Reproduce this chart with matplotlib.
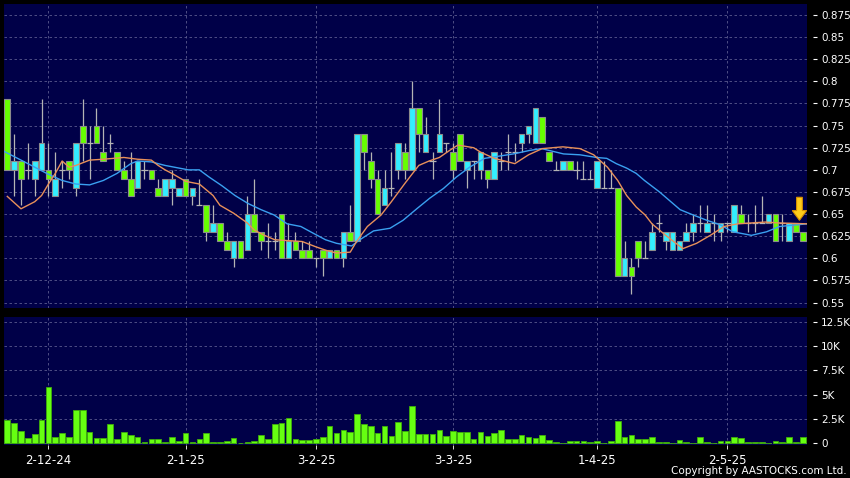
import numpy as np
import matplotlib
matplotlib.use("Agg")
import matplotlib.pyplot as plt
from matplotlib.patches import Polygon

# daily candles, oldest first (index 0 = first bar on the chart)
opens = [0.78, 0.70, 0.71, 0.70, 0.69, 0.70, 0.70, 0.67, 0.70, 0.71,
         0.68, 0.75, 0.73, 0.75, 0.72, 0.73, 0.72, 0.70, 0.69, 0.68,
         0.70, 0.70, 0.68, 0.67, 0.68, 0.67, 0.69, 0.67, 0.66, 0.66,
         0.63, 0.64, 0.62, 0.60, 0.62, 0.61, 0.65, 0.63, 0.62, 0.62,
         0.65, 0.60, 0.62, 0.61, 0.61, 0.60, 0.61, 0.60, 0.61, 0.60,
         0.63, 0.62, 0.74, 0.71, 0.69, 0.66, 0.68, 0.70, 0.72, 0.70,
         0.77, 0.72, 0.71, 0.72, 0.73, 0.72, 0.74, 0.70, 0.71, 0.70,
         0.70, 0.69, 0.71, 0.72, 0.72, 0.73, 0.74, 0.73, 0.76, 0.72,
         0.70, 0.70, 0.71, 0.70, 0.69, 0.69, 0.68, 0.68, 0.68, 0.68,
         0.58, 0.59, 0.62, 0.60, 0.61, 0.64, 0.62, 0.61, 0.61, 0.62,
         0.63, 0.64, 0.63, 0.64, 0.63, 0.64, 0.63, 0.65, 0.64, 0.64,
         0.64, 0.64, 0.65, 0.64, 0.62, 0.64, 0.63]
closes = [0.70, 0.71, 0.69, 0.70, 0.71, 0.73, 0.69, 0.69, 0.70, 0.70,
          0.73, 0.73, 0.73, 0.73, 0.71, 0.73, 0.70, 0.69, 0.67, 0.71,
          0.70, 0.69, 0.67, 0.69, 0.69, 0.68, 0.67, 0.68, 0.66, 0.63,
          0.64, 0.62, 0.61, 0.62, 0.60, 0.65, 0.63, 0.62, 0.62, 0.62,
          0.60, 0.62, 0.61, 0.60, 0.60, 0.60, 0.60, 0.61, 0.60, 0.63,
          0.62, 0.74, 0.72, 0.69, 0.65, 0.68, 0.68, 0.73, 0.70, 0.77,
          0.74, 0.74, 0.71, 0.74, 0.73, 0.70, 0.71, 0.71, 0.71, 0.72,
          0.69, 0.72, 0.71, 0.72, 0.72, 0.74, 0.75, 0.77, 0.73, 0.71,
          0.70, 0.71, 0.70, 0.70, 0.69, 0.69, 0.71, 0.68, 0.68, 0.58,
          0.60, 0.58, 0.60, 0.60, 0.63, 0.64, 0.63, 0.63, 0.62, 0.63,
          0.64, 0.64, 0.64, 0.64, 0.64, 0.64, 0.66, 0.64, 0.64, 0.64,
          0.64, 0.65, 0.62, 0.64, 0.64, 0.63, 0.62]
highs = [0.78, 0.74, 0.71, 0.73, 0.71, 0.78, 0.73, 0.72, 0.71, 0.71,
         0.73, 0.78, 0.75, 0.77, 0.75, 0.74, 0.72, 0.71, 0.72, 0.71,
         0.71, 0.70, 0.69, 0.69, 0.70, 0.68, 0.69, 0.68, 0.69, 0.66,
         0.66, 0.64, 0.63, 0.62, 0.62, 0.67, 0.69, 0.63, 0.64, 0.63,
         0.65, 0.64, 0.63, 0.62, 0.62, 0.60, 0.61, 0.61, 0.61, 0.63,
         0.66, 0.74, 0.74, 0.72, 0.70, 0.70, 0.72, 0.73, 0.73, 0.80,
         0.77, 0.76, 0.72, 0.78, 0.73, 0.73, 0.74, 0.71, 0.71, 0.72,
         0.70, 0.72, 0.72, 0.74, 0.73, 0.74, 0.75, 0.77, 0.76, 0.72,
         0.71, 0.71, 0.71, 0.71, 0.71, 0.70, 0.71, 0.71, 0.70, 0.68,
         0.62, 0.60, 0.62, 0.62, 0.64, 0.65, 0.63, 0.63, 0.62, 0.64,
         0.65, 0.66, 0.66, 0.65, 0.64, 0.64, 0.66, 0.66, 0.65, 0.66,
         0.67, 0.65, 0.65, 0.65, 0.64, 0.64, 0.63]
lows = [0.70, 0.67, 0.66, 0.69, 0.67, 0.70, 0.67, 0.67, 0.68, 0.69,
        0.67, 0.71, 0.69, 0.73, 0.71, 0.72, 0.70, 0.69, 0.67, 0.68,
        0.69, 0.69, 0.67, 0.67, 0.66, 0.67, 0.67, 0.66, 0.66, 0.62,
        0.63, 0.62, 0.61, 0.59, 0.60, 0.61, 0.63, 0.61, 0.60, 0.61,
        0.60, 0.60, 0.61, 0.60, 0.60, 0.59, 0.58, 0.60, 0.60, 0.59,
        0.62, 0.62, 0.70, 0.68, 0.65, 0.66, 0.67, 0.69, 0.69, 0.70,
        0.72, 0.72, 0.69, 0.72, 0.72, 0.69, 0.71, 0.68, 0.69, 0.69,
        0.68, 0.69, 0.70, 0.70, 0.71, 0.72, 0.73, 0.73, 0.73, 0.71,
        0.70, 0.70, 0.70, 0.69, 0.69, 0.69, 0.68, 0.68, 0.68, 0.58,
        0.58, 0.56, 0.59, 0.60, 0.61, 0.63, 0.61, 0.61, 0.61, 0.62,
        0.62, 0.63, 0.63, 0.62, 0.62, 0.63, 0.63, 0.64, 0.63, 0.63,
        0.64, 0.64, 0.62, 0.62, 0.62, 0.63, 0.62]
# volume in thousands
volume = [2.42, 2.07, 1.31, 0.52, 0.93, 2.42, 5.77, 0.62, 1.04, 0.62,
          3.46, 3.46, 1.14, 0.52, 0.52, 2.00, 0.41, 1.14, 0.86, 0.69,
          0.17, 0.41, 0.48, 0.14, 0.62, 0.24, 1.04, 0.14, 0.45, 1.11,
          0.17, 0.17, 0.24, 0.52, 0.03, 0.17, 0.21, 0.86, 0.41, 1.97,
          2.07, 2.59, 0.41, 0.35, 0.35, 0.41, 0.69, 1.80, 1.11, 1.38,
          1.21, 3.04, 2.00, 1.80, 1.11, 1.80, 0.76, 2.18, 1.28, 3.87,
          0.97, 0.97, 0.97, 1.38, 0.80, 1.28, 1.14, 1.21, 0.41, 1.21,
          0.76, 1.04, 1.38, 0.45, 0.45, 0.86, 0.62, 0.52, 0.86, 0.35,
          0.14, 0.07, 0.21, 0.28, 0.24, 0.17, 0.21, 0.07, 0.24, 2.25,
          0.69, 0.86, 0.41, 0.41, 0.62, 0.17, 0.14, 0.00, 0.31, 0.17,
          0.03, 0.69, 0.10, 0.07, 0.24, 0.28, 0.62, 0.52, 0.10, 0.17,
          0.17, 0.07, 0.21, 0.10, 0.62, 0.14, 0.62]

# moving averages (bar position, value)
ma_short_x = [0, 2, 4, 5, 6, 7, 8, 9, 10, 12, 14, 17, 19, 21, 22, 23, 24, 26, 28, 30,
              31, 33, 35, 36, 37.5, 39, 41, 43, 45, 46.5, 48, 50, 51, 52.5, 54.5, 56, 58, 60,
              61.5, 63, 64.5, 65.7, 68, 69, 71, 74, 76, 78, 81, 83.5, 85.5, 87.5, 89, 90.3,
              91.7, 93, 94, 96, 98.5, 100.5, 102.5, 104.5, 106.5, 108.5, 110.5, 112.5, 116.6]
ma_short_y = [0.670, 0.656, 0.664, 0.671, 0.684, 0.696, 0.710, 0.703, 0.705, 0.711,
              0.712, 0.714, 0.712, 0.711, 0.705, 0.700, 0.696, 0.687, 0.684, 0.671,
              0.660, 0.651, 0.640, 0.632, 0.626, 0.621, 0.620, 0.619, 0.613, 0.609,
              0.606, 0.607, 0.620, 0.636, 0.649, 0.664, 0.685, 0.705, 0.710, 0.714,
              0.722, 0.728, 0.725, 0.720, 0.713, 0.707, 0.717, 0.724, 0.726, 0.724,
              0.717, 0.703, 0.688, 0.671, 0.658, 0.649, 0.639, 0.626, 0.611, 0.617,
              0.626, 0.636, 0.639, 0.640, 0.641, 0.640, 0.639]
ma_long_x = [-0.5, 2, 4, 6, 8, 10, 12, 14, 16, 18, 19, 21, 23, 26.4, 28, 29.4, 31.3, 33.2,
             35.1, 37, 38.9, 40.8, 42.8, 44.7, 46.4, 48, 50.2, 51.4, 53.4, 55.8, 57.7,
             59.7, 61.6, 63.6, 65.5, 67.4, 69.6, 71.3, 73.8, 76.2, 77.9, 81.1, 83.5, 85.9,
             87.4, 88.8, 90.3, 91.7, 92.9, 95.1, 98.1, 100, 102, 103.9, 105.8, 108.5,
             110.7, 112.6, 116.6]
ma_long_y = [0.721, 0.711, 0.703, 0.695, 0.688, 0.684, 0.683, 0.688, 0.696, 0.707,
             0.710, 0.709, 0.705, 0.700, 0.700, 0.692, 0.682, 0.671, 0.662, 0.655,
             0.649, 0.639, 0.636, 0.628, 0.621, 0.617, 0.614, 0.621, 0.631, 0.634,
             0.643, 0.656, 0.668, 0.679, 0.692, 0.703, 0.713, 0.715, 0.718, 0.722,
             0.724, 0.718, 0.717, 0.714, 0.713, 0.707, 0.702, 0.696, 0.688, 0.675,
             0.655, 0.649, 0.643, 0.638, 0.630, 0.626, 0.630, 0.636, 0.639]

date_pos = [6, 26, 45, 65, 86, 105]
date_labels = ["2-12-24", "2-1-25", "3-2-25", "3-3-25", "1-4-25", "2-5-25"]
price_ticks = [0.875, 0.85, 0.825, 0.8, 0.775, 0.75, 0.725, 0.7, 0.675, 0.65, 0.625, 0.6, 0.575, 0.55]
price_labels = ["0.875", "0.85", "0.825", "0.8", "0.775", "0.75", "0.725", "0.7",
                "0.675", "0.65", "0.625", "0.6", "0.575", "0.55"]
vol_ticks = [0, 2.5, 5, 7.5, 10, 12.5]
vol_labels = ["0", "2.5K", "5K", "7.5K", "10K", "12.5K"]

W, H = 850, 478
BG = "#000048"
GRID = "#5a5a8e"
UP = "#33eeff"
DOWN = "#66ff00"
EDGE = "#8c8c8c"


def px_axes(left, top, right, bottom):
    return fig.add_axes([left / W, 1 - bottom / H, (right - left) / W, (bottom - top) / H])


def style_axes(ax):
    ax.set_facecolor(BG)
    for s in ax.spines.values():
        s.set_visible(False)
    ax.spines["right"].set_position(("outward", 4))
    ax.yaxis.tick_right()
    ax.tick_params(axis="y", colors="white", length=3, width=0.8, pad=3, labelsize=7.5)
    ax.set_xlim(-0.48, 116.6)
    ax.set_xticks(date_pos)
    ax.grid(True, color=GRID, linestyle=(0, (3, 3)), linewidth=0.6)
    ax.set_axisbelow(True)


fig = plt.figure(figsize=(W / 100, H / 100), dpi=100, facecolor="black")
ax = px_axes(4, 4, 807, 308)
axv = px_axes(4, 317, 807, 444.5)

o = np.array(opens)
c = np.array(closes)
hi = np.array(highs)
lo = np.array(lows)
x = np.arange(len(o))

# price panel
style_axes(ax)
ax.set_ylim(0.5439, 0.8874)
ax.set_yticks(price_ticks)
ax.set_yticklabels(price_labels)
ax.tick_params(axis="x", length=0, labelbottom=False)

ax.vlines(x, lo, hi, color="#b4b4b4", linewidth=0.9, zorder=2)
up = c > o
dn = c < o
flat = c == o
ax.bar(x[up], (c - o)[up], bottom=o[up], width=0.82, color=UP, edgecolor=EDGE, linewidth=0.8, zorder=3)
ax.bar(x[dn], (o - c)[dn], bottom=c[dn], width=0.82, color=DOWN, edgecolor=EDGE, linewidth=0.8, zorder=3)
ax.hlines(o[flat], x[flat] - 0.45, x[flat] + 0.45, color="#b4b4b4", linewidth=0.9, zorder=3)

ax.plot(ma_long_x, ma_long_y, color="#3aa0f0", linewidth=1.0, zorder=4)
ax.plot(ma_short_x, ma_short_y, color="#e8905a", linewidth=1.0, zorder=4)

# marker arrow over the latest bars
ax_x = 115.5
arrow = Polygon([(ax_x - 0.42, 0.669), (ax_x + 0.42, 0.669), (ax_x + 0.42, 0.654),
                 (ax_x + 1.05, 0.654), (ax_x, 0.643), (ax_x - 1.05, 0.654), (ax_x - 0.42, 0.654)],
                closed=True, facecolor="#ffcc1a", edgecolor="#d89000", linewidth=0.8, zorder=6)
ax.add_patch(arrow)

# volume panel
style_axes(axv)
axv.set_ylim(-0.12, 13.0)
axv.set_yticks(vol_ticks)
axv.set_yticklabels(vol_labels)
axv.bar(x, volume, width=0.82, color="#66ff11", edgecolor="#3fae0a", linewidth=0.6, zorder=3)
axv.set_xticklabels(date_labels)
axv.tick_params(axis="x", colors="white", direction="out", length=3, width=0.6, pad=4, labelsize=8.5)
for t in axv.get_xticklines():
    t.set_color("#9a9a9a")

fig.text(847 / W, 1 - 471 / H, "Copyright by AASTOCKS.com Ltd.", color="white",
         fontsize=7.5, ha="right", va="center")

fig.savefig("out.png", dpi=100, facecolor="black")
